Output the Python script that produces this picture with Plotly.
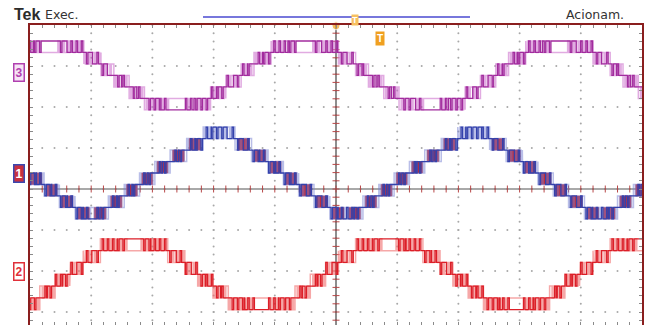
import math
import plotly.graph_objects as go

# ---------------------------------------------------------------
# Scope screen: 10 horizontal divisions, vertical divisions counted
# from the centre graticule line (+4 at the top edge).
# ---------------------------------------------------------------

# crest instants (div) of each channel's staircase on screen
CH3_CRESTS = [0.33, 4.49, 8.65]
CH2_CRESTS = [-2.46, 1.70, 5.87, 10.03]
CH1_CRESTS = [-1.07, 3.09, 7.25, 11.41]

# band edges measured outward from a crest (div) and the levels between them
BANDS_7 = [0.0, 0.55, 0.83, 1.04, 1.29, 1.54, 2.08]
LEVELS_7 = [3, 2, 1, 0, -1, -2, -3]
BANDS_9 = [0.0, 0.26, 0.53, 0.80, 1.05, 1.30, 1.55, 1.81, 2.08]
LEVELS_9 = [4, 3, 2, 1, 0, -1, -2, -3, -4]

# non-switching stretch around crest / trough (div)
FLAT_7 = 0.12
FLAT_9 = 0.0

# channel ground marker (div) and step height per level (div)
CH3_OFFSET, CH3_STEP = 2.77, 0.28
CH2_OFFSET, CH2_STEP = -2.08, 0.288
CH1_OFFSET, CH1_STEP = 0.39, 0.28

MARKERS = ["3", "1", "2"]
MARKER_LEVELS = [2.83, 0.39, -2.02]

X_RANGE = [0, 10]
Y_RANGE = [-(325 - 189) / 41.0, 4]

CARRIER = 0.085   # switching period on screen (div)
PULSE_W = 0.024   # drawn pulse width (div)


def band_regions(crests, edges, levels):
    """Split every band into the half resting on the upper level and the half resting on the lower one."""
    regs = []
    for c in crests:
        for k in range(len(edges) - 1):
            a, b = edges[k], edges[k + 1]
            hi, lo = levels[k], levels[k + 1]
            m = (a + b) / 2
            regs.append((c + a, c + m, hi, lo))
            regs.append((c + m, c + b, lo, hi))
            regs.append((c - b, c - m, lo, hi))
            regs.append((c - m, c - a, hi, lo))
    regs = [r for r in regs if r[1] > X_RANGE[0] - 0.1 and r[0] < X_RANGE[1] + 0.1]
    regs.sort(key=lambda r: r[0])
    return regs


def is_flat(t, crests, half, flat):
    if flat <= 0:
        return False
    for c in crests:
        if abs(t - c) < flat or abs(t - c - half) < flat or abs(t - c + half) < flat:
            return True
    return False


def waveform(crests, edges, levels, flat, offset, step, shift=0.0, swap=False):
    half = edges[-1]
    xs, ys = [], []
    for t0, t1, base, pulse in band_regions(crests, edges, levels):
        if swap:
            base, pulse = pulse, base
        yb = offset + base * step
        yp = offset + pulse * step
        xs.append(t0)
        ys.append(yb)
        n0 = math.ceil((t0 - shift) / CARRIER)
        n1 = math.floor((t1 - shift) / CARRIER)
        for n in range(n0, n1 + 1):
            c = n * CARRIER + shift
            if c - PULSE_W / 2 <= t0 or c + PULSE_W / 2 >= t1:
                continue
            if is_flat(c, crests, half, flat):
                continue
            xs += [c - PULSE_W / 2, c - PULSE_W / 2, c + PULSE_W / 2, c + PULSE_W / 2]
            ys += [yb, yp, yp, yb]
        xs.append(t1)
        ys.append(yb)
    return xs, ys


def band_blocks(crests, edges, levels, offset, step):
    """Filled blocks where the trace switches densely between two levels."""
    xs, ys = [], []
    for c in crests:
        for k in range(1, len(edges) - 1):
            a, b = edges[k], edges[k + 1]
            w = b - a
            y1 = offset + levels[k] * step
            y2 = offset + levels[k + 1] * step
            for s in (1, -1):
                p = c + s * (a + 0.15 * w)
                q = c + s * (b - 0.15 * w)
                xs += [p, q, q, p, p, None]
                ys += [y1, y1, y2, y2, y1, None]
    return xs, ys


def add_channel(fig, crests, edges, levels, flat, offset, step, main, ghost):
    gx, gy = waveform(crests, edges, levels, flat, offset, step, shift=CARRIER / 2, swap=True)
    fig.add_trace(go.Scatter(x=gx, y=gy, mode="lines",
                             line=dict(color=ghost, width=1.5), hoverinfo="skip"))
    mx, my = waveform(crests, edges, levels, flat, offset, step)
    fig.add_trace(go.Scatter(x=mx, y=my, mode="lines",
                             line=dict(color=main, width=1.3), hoverinfo="skip"))


fig = go.Figure()

# graticule dots
gx, gy = [], []
for i in range(1, 10):
    for j in range(int(Y_RANGE[0] * 5) - 1, 21):
        gx.append(i)
        gy.append(j * 0.2)
for j in range(-3, 4):
    for i in range(1, 50):
        gx.append(i * 0.2)
        gy.append(j)
fig.add_trace(go.Scatter(x=gx, y=gy, mode="markers",
                         marker=dict(size=2, color="#a8a8a8"), hoverinfo="skip"))

# centre axes with minor ticks
fig.add_trace(go.Scatter(x=[0, 10], y=[0, 0], mode="lines",
                         line=dict(color="#555555", width=1.2), hoverinfo="skip"))
fig.add_trace(go.Scatter(x=[5, 5], y=[Y_RANGE[0], 4], mode="lines",
                         line=dict(color="#444444", width=1.2), hoverinfo="skip"))
fig.add_trace(go.Scatter(x=[i * 0.2 for i in range(1, 50)], y=[0] * 49, mode="markers",
                         marker=dict(symbol="line-ns", size=5,
                                     line=dict(color="#b84848", width=1)), hoverinfo="skip"))
fig.add_trace(go.Scatter(x=[5] * 36, y=[j * 0.2 for j in range(-16, 20)], mode="markers",
                         marker=dict(symbol="line-ew", size=5,
                                     line=dict(color="#b84848", width=1)), hoverinfo="skip"))

# channel 3 (magenta)
add_channel(fig, CH3_CRESTS, BANDS_7, LEVELS_7, FLAT_7, CH3_OFFSET, CH3_STEP,
            "#a22c9e", "rgba(205,115,205,0.6)")

# channel 1 (blue, dense switching shows red)
bx, by = band_blocks(CH1_CRESTS, BANDS_9, LEVELS_9, CH1_OFFSET, CH1_STEP)
fig.add_trace(go.Scatter(x=bx, y=by, mode="lines", fill="toself",
                         fillcolor="#c8262e", line=dict(color="#c8262e", width=0.5),
                         hoverinfo="skip"))
add_channel(fig, CH1_CRESTS, BANDS_9, LEVELS_9, FLAT_9, CH1_OFFSET, CH1_STEP,
            "#3442ac", "rgba(115,125,210,0.5)")

# channel 2 (red)
add_channel(fig, CH2_CRESTS, BANDS_7, LEVELS_7, FLAT_7, CH2_OFFSET, CH2_STEP,
            "#dc1f28", "rgba(240,110,110,0.6)")

# channel ground arrows at the left edge
fig.add_trace(go.Scatter(x=[-0.04] * 3, y=MARKER_LEVELS, mode="markers", cliponaxis=False,
                         marker=dict(symbol="triangle-right", size=8,
                                     color=["#b040b0", "#c03040", "#e0303a"]),
                         hoverinfo="skip"))

# trigger position marker
fig.add_trace(go.Scatter(x=[5.0, 5.0], y=[4.22, 3.98], mode="markers", cliponaxis=False,
                         marker=dict(symbol=["triangle-down", "circle"], size=[8, 8],
                                     color="#f0a020"), hoverinfo="skip"))

W, H = 648, 325
L, R, T, B = 30, 6, 25, 0


def px(xp):
    return (xp - L) / (W - L - R)


def py(yp):
    return (H - B - yp) / (H - T - B)


annotations = [
    dict(x=px(12), y=py(15), xref="paper", yref="paper", text="<b>Tek</b>", showarrow=False,
         xanchor="left", yanchor="middle",
         font=dict(family="Liberation Sans Narrow, Liberation Sans", size=16, color="#2b2b2b")),
    dict(x=px(43), y=py(15), xref="paper", yref="paper", text="Exec.", showarrow=False,
         xanchor="left", yanchor="middle",
         font=dict(family="DejaVu Sans", size=12.5, color="#333333")),
    dict(x=px(626), y=py(15), xref="paper", yref="paper", text="Acionam.", showarrow=False,
         xanchor="right", yanchor="middle",
         font=dict(family="DejaVu Sans", size=12.5, color="#333333")),
    dict(x=px(355), y=py(20), xref="paper", yref="paper", text="<b>T</b>", showarrow=False,
         xanchor="center", yanchor="middle", bgcolor="#f7c060", borderpad=0,
         font=dict(family="Liberation Sans", size=9, color="#ffffff")),
    dict(x=px(380), y=py(38), xref="paper", yref="paper", text="<b>T</b>", showarrow=False,
         xanchor="center", yanchor="middle", bgcolor="#f0a020", borderpad=1,
         font=dict(family="Liberation Sans", size=10, color="#ffffff")),
]
marker_style = [("#b040b0", "#f6e4f6", "#b040b0"),
                ("#3a48b0", "#c83040", "#ffffff"),
                ("#e0303a", "#ffffff", "#e0303a")]
for name, lvl, (bc, bg, fc) in zip(MARKERS, MARKER_LEVELS, marker_style):
    annotations.append(dict(x=px(19), y=lvl, xref="paper", yref="y", text="<b>%s</b>" % name,
                            showarrow=False, xanchor="center", yanchor="middle",
                            bgcolor=bg, bordercolor=bc, borderwidth=1.5, borderpad=1,
                            font=dict(family="Liberation Sans", size=12, color=fc)))

shapes = [
    dict(type="line", xref="paper", yref="paper", x0=px(203), x1=px(470),
         y0=py(17), y1=py(17), line=dict(color="#4a4ad0", width=1.5)),
]

fig.update_layout(
    width=W, height=H,
    margin=dict(l=L, r=R, t=T, b=B),
    paper_bgcolor="white", plot_bgcolor="white",
    showlegend=False,
    annotations=annotations,
    shapes=shapes,
    xaxis=dict(range=X_RANGE, showgrid=False, zeroline=False, showticklabels=False,
               ticks="inside", tickmode="linear", tick0=0, dtick=0.2, ticklen=3,
               tickcolor="#8a8a8a", showline=True, linecolor="#8a1e1e", linewidth=1.5,
               mirror="ticks"),
    yaxis=dict(range=Y_RANGE, showgrid=False, zeroline=False, showticklabels=False,
               ticks="inside", tickmode="linear", tick0=0, dtick=0.2, ticklen=3,
               tickcolor="#8a8a8a", showline=True, linecolor="#8a1e1e", linewidth=1.5,
               mirror="ticks"),
)

fig.write_html("out.html")
